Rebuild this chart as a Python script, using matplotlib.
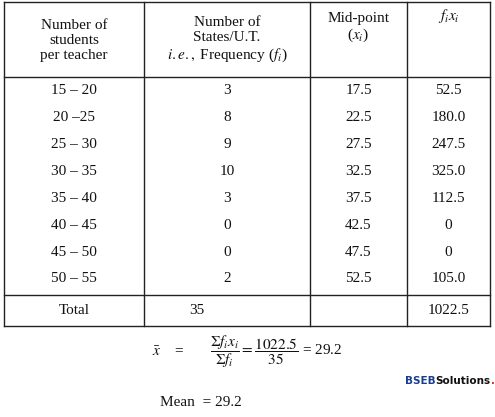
import matplotlib
matplotlib.use("Agg")
import matplotlib.pyplot as plt

plt.rcParams["mathtext.fontset"] = "stix"

classes = ["15 – 20", "20 –25", "25 – 30", "30 – 35", "35 – 40", "40 – 45", "45 – 50", "50 – 55"]
freq = ["3", "8", "9", "10", "3", "0", "0", "2"]
mid = ["17.5", "22.5", "27.5", "32.5", "37.5", "42.5", "47.5", "52.5"]
fx = ["52.5", "180.0", "247.5", "325.0", "112.5", "0", "0", "105.0"]
total_f = "35"
total_fx = "1022.5"

fig = plt.figure(figsize=(4.95, 4.17), dpi=100)
ax = fig.add_axes([0, 0, 1, 1])
ax.set_xlim(0, 495); ax.set_ylim(417, 0); ax.axis("off")
F = dict(family=["Liberation Serif", "DejaVu Serif"], fontsize=11, color="#111")
cols = [4, 144, 310, 407, 490]
top, hdr, totl, bot = 2, 77, 295, 326
lw = 1.0
for y in [top, hdr, totl, bot]:
    ax.plot([cols[0], cols[-1]], [y, y], color="#222", lw=lw)
for x in cols:
    ax.plot([x, x], [top, bot], color="#222", lw=lw)
cx = [(cols[i] + cols[i+1]) / 2 for i in range(4)]
ax.text(cx[0], 40, "Number of\nstudents\nper teacher", ha="center", va="center", linespacing=1.2, **F)
ax.text(cx[1], 40, "Number of\nStates/U.T.\n$\\mathit{i.e.,}$ Frequency ($f_i$)", ha="center", va="center", linespacing=1.2, **F)
ax.text(cx[2], 28, "Mid-point\n($x_i$)", ha="center", va="center", linespacing=1.2, **F)
ax.text(cx[3], 16, "$f_ix_i$", ha="center", va="center", **F)
for i in range(len(classes)):
    y = 90 + i * 27
    ax.text(cx[0], y, classes[i], ha="center", va="center", **F)
    ax.text(cx[1], y, freq[i], ha="center", va="center", **F)
    ax.text(cx[2], y, mid[i], ha="center", va="center", **F)
    ax.text(cx[3], y, fx[i], ha="center", va="center", **F)
ax.text(cx[0], 310, "Total", ha="center", va="center", **F)
ax.text(cx[1] - 30, 310, total_f, ha="center", va="center", **F)
ax.text(cx[3], 310, total_fx, ha="center", va="center", **F)
ax.text(152, 352, "$\\bar{x}$    =", ha="left", va="center", **F)
ax.text(210, 352, "$\\dfrac{\\Sigma f_ix_i}{\\Sigma f_i} = \\dfrac{1022.5}{35}$ = 29.2", ha="left", va="center",
        family="Liberation Serif", fontsize=11, color="#111")
ax.text(42, 402, "∴", ha="left", va="center", **F)
ax.text(160, 402, "Mean  = 29.2", ha="left", va="center", **F)

# logo, laid out piece by piece
fig.canvas.draw()
r = fig.canvas.get_renderer()
x = 405
for s, c in [("BSEB", "#1a3d8f"), ("Solutions", "#111111"), (".com", "#e03020")]:
    t = ax.text(x, 381, s, ha="left", va="center", fontsize=7.5, fontweight="bold", color=c,
                family="DejaVu Sans")
    bb = t.get_window_extent(r)
    x += bb.width * 495 / fig.bbox.width
fig.savefig("out.png", dpi=100, facecolor="white")
